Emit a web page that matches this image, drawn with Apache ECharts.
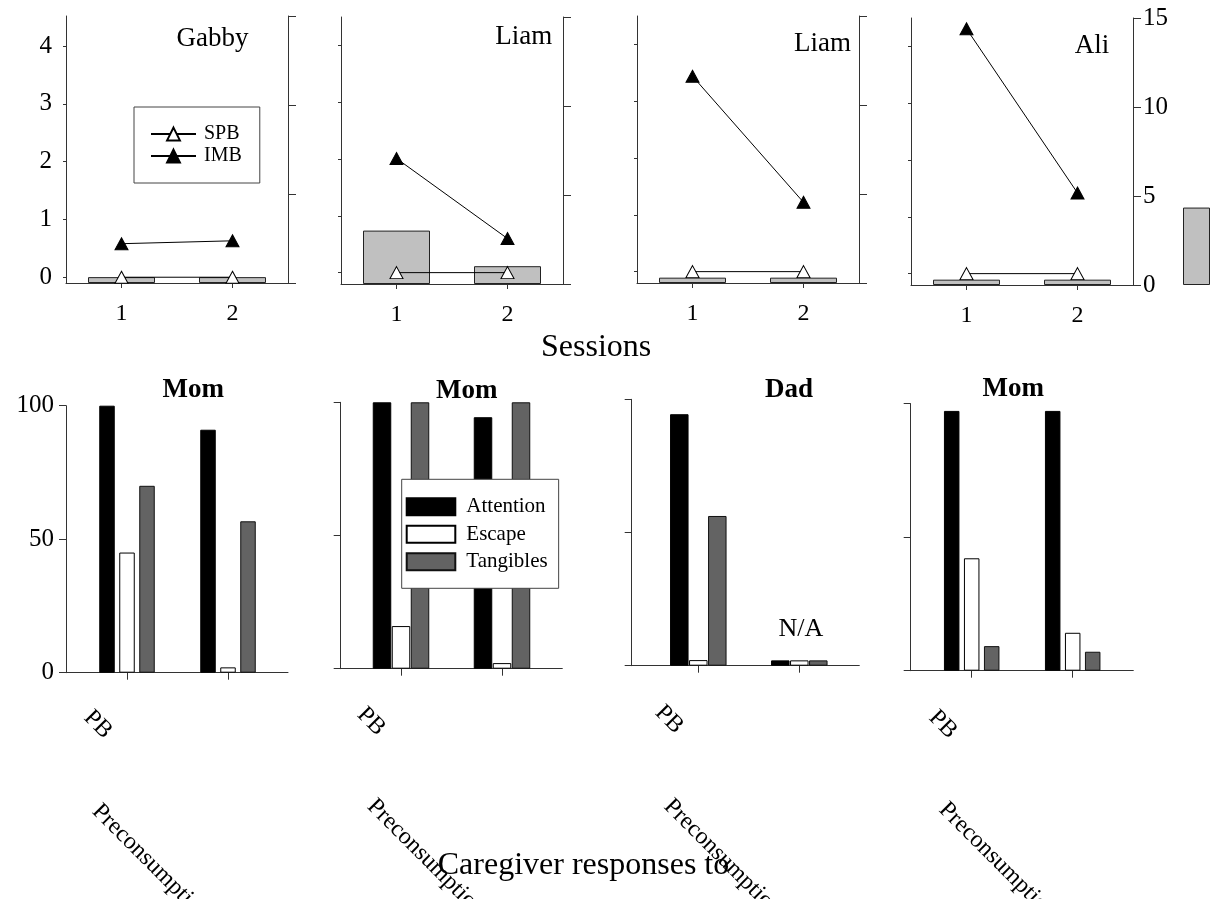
<!DOCTYPE html>
<html>
<head>
<meta charset="utf-8">
<script src="https://cdn.jsdelivr.net/npm/echarts@6/dist/echarts.min.js"></script>
<style>html,body{margin:0;padding:0;background:#fff}#chart{width:1213px;height:899px}</style>
</head>
<body>
<div id="chart"></div>
<script>
// ---------------- data ----------------
const sessions = ['1', '2'];
const topNames = ['Gabby', 'Liam', 'Liam', 'Ali'];
const spb = [[0, 0], [0, 0], [0, 0], [0, 0]];
const imb = [[0.58, 0.63], [2.01, 0.60], [3.44, 1.22], [4.31, 1.42]];
const grayBars = [[0.33, 0.33], [3.0, 1.0], [0.3, 0.3], [0.3, 0.3]];
const extraBar = [4.35];
const leftTicks = [0, 1, 2, 3, 4];

const caregivers = ['Mom', 'Mom', 'Dad', 'Mom'];
const responseCats = ['PB', 'Preconsumption'];
const attention = [[100, 91], [100, 94.4], [94.4, 2], [97.3, 97.3]];
const escape = [[45, 2], [16, 2.1], [2.1, 2], [42.1, 14.2]];
const tangibles = [[70, 56.7], [100, 100], [56.2, 2], [9.2, 7.1]];
const naNote = 'N/A';
const topAxisTitle = 'Sessions';
const bottomAxisTitle = 'Caregiver responses to';

// ---------------- layout ----------------
const FONT = '"Liberation Serif", "Times New Roman", serif';
const topGrid = [
  {left: 66, top: 16, width: 222, height: 267, ymin: -0.1, ymax: 4.52},
  {left: 341, top: 17, width: 222, height: 267, ymin: -0.2, ymax: 4.5},
  {left: 637, top: 16, width: 222, height: 267, ymin: -0.2, ymax: 4.5},
  {left: 911, top: 18, width: 222, height: 267, ymin: -0.2, ymax: 4.5}
];
const botGrid = [
  {left: 66, top: 405.7, width: 222, height: 267, tick0: 61, barW: 15.5, step: 20},
  {left: 340.7, top: 402.3, width: 221.6, height: 266.4, tick0: 60.3, barW: 18.5, step: 19},
  {left: 631.7, top: 399.3, width: 227.6, height: 266.4, tick0: 66.6, barW: 18.5, step: 19},
  {left: 910.7, top: 403.7, width: 222.6, height: 267, tick0: 61, barW: 15.5, step: 20}
];
const CAT_PX = 101;
const axisLineStyle = {color: '#333', width: 1};
const labelStyle = {fontSize: 25, fontFamily: FONT, color: '#000'};

const grid = [], xAxis = [], yAxis = [], series = [];

topGrid.forEach((g, i) => {
  grid.push({left: g.left, top: g.top, width: g.width, height: g.height});
  xAxis.push({
    type: 'category', gridIndex: i, data: sessions, boundaryGap: true,
    axisLine: {show: true, onZero: false, lineStyle: axisLineStyle},
    axisTick: {show: true, alignWithLabel: true, length: 5, lineStyle: axisLineStyle},
    axisLabel: Object.assign({show: true, margin: 19}, labelStyle, {fontSize: 24}),
    splitLine: {show: false}
  });
  yAxis.push({
    type: 'value', gridIndex: i, position: 'left', min: g.ymin, max: g.ymax,
    axisLine: {show: true, onZero: false, lineStyle: axisLineStyle},
    axisTick: {show: true, length: 3, customValues: leftTicks, lineStyle: axisLineStyle},
    axisLabel: Object.assign({show: i === 0, customValues: leftTicks, margin: 14}, labelStyle),
    splitLine: {show: false}
  });
  yAxis.push({
    type: 'value', gridIndex: i, position: 'right', min: 0, max: 15, interval: 5,
    axisLine: {show: true, onZero: false, lineStyle: axisLineStyle},
    axisTick: {show: true, length: 8, lineStyle: axisLineStyle},
    axisLabel: Object.assign({show: i === 3, margin: 10}, labelStyle),
    splitLine: {show: false}
  });
  series.push({
    type: 'bar', name: 'Bar', xAxisIndex: i, yAxisIndex: 2 * i + 1, data: grayBars[i],
    barWidth: 67, itemStyle: {color: '#c0c0c0', borderColor: '#222', borderWidth: 1}, z: 2
  });
  series.push({
    type: 'line', name: 'SPB', xAxisIndex: i, yAxisIndex: 2 * i, data: spb[i],
    symbol: 'triangle', symbolSize: [13, 12], showSymbol: true,
    lineStyle: {color: '#000', width: 1},
    itemStyle: {color: '#fff', borderColor: '#000', borderWidth: 1}, z: 3
  });
  series.push({
    type: 'line', name: 'IMB', xAxisIndex: i, yAxisIndex: 2 * i, data: imb[i],
    symbol: 'triangle', symbolSize: [13, 12], showSymbol: true,
    lineStyle: {color: '#000', width: 1},
    itemStyle: {color: '#000', borderColor: '#000', borderWidth: 1}, z: 4
  });
});

const barStyles = {
  Attention: {color: '#000', borderColor: '#000', borderWidth: 1},
  Escape: {color: '#fff', borderColor: '#000', borderWidth: 1},
  Tangibles: {color: '#636363', borderColor: '#111', borderWidth: 1}
};

botGrid.forEach((g, j) => {
  const gi = 4 + j;
  grid.push({left: g.left, top: g.top, width: g.width, height: g.height});
  xAxis.push({
    type: 'value', gridIndex: gi,
    min: -g.tick0 / CAT_PX, max: (g.width - g.tick0) / CAT_PX,
    axisLine: {show: true, onZero: false, lineStyle: axisLineStyle},
    axisTick: {show: true, length: 7, customValues: [0, 1], lineStyle: axisLineStyle},
    axisLabel: {show: false},
    splitLine: {show: false}
  });
  yAxis.push({
    type: 'value', gridIndex: gi, min: 0, max: 100, interval: 50,
    axisLine: {show: true, onZero: false, lineStyle: axisLineStyle},
    axisTick: {show: true, length: 7, lineStyle: axisLineStyle},
    axisLabel: Object.assign({show: j === 0, margin: 12}, labelStyle),
    splitLine: {show: false}
  });
  const d = g.step / CAT_PX;
  [['Attention', attention, -d], ['Escape', escape, 0], ['Tangibles', tangibles, d]].forEach(([name, arr, off]) => {
    series.push({
      type: 'bar', name: name, xAxisIndex: gi, yAxisIndex: 8 + j,
      data: arr[j].map((v, k) => [k + off, v]),
      barWidth: g.barW, barGap: '-100%',
      itemStyle: barStyles[name], z: 2
    });
  });
});

// lone bar at far right
grid.push({left: 1183, top: 18, width: 27, height: 267});
xAxis.push({type: 'category', gridIndex: 8, data: [''], show: false});
yAxis.push({type: 'value', gridIndex: 8, min: 0, max: 15, show: false});
series.push({
  type: 'bar', name: 'Bar', xAxisIndex: 8, yAxisIndex: 12, data: extraBar, barWidth: 27,
  itemStyle: {color: '#c0c0c0', borderColor: '#222', borderWidth: 1}
});

// ---------------- texts ----------------
function txt(str, x, y, size, weight, extra) {
  return Object.assign({
    type: 'text', x: x, y: y + size * 0.09, z: 10, silent: true,
    style: {text: str, fontSize: size, fontFamily: FONT, fontWeight: weight || 'normal',
      fill: '#000', align: 'center', verticalAlign: 'middle'}
  }, extra || {});
}
const topTitlePos = [[212.5, 36], [523.8, 34.7], [822.5, 41.7], [1092, 43.3]];
const botTitlePos = [[193.3, 387.5], [466.7, 388.8], [789, 387.8], [1013.3, 387]];
const pbPos = [[87.5, 712], [360.8, 709], [658.8, 707], [932.5, 712]];
const prePos = [[95.8, 805.7], [370.8, 800.7], [667.5, 800.7], [942.5, 804]];
const graphic = [];
topNames.forEach((n, i) => graphic.push(txt(n, topTitlePos[i][0], topTitlePos[i][1], 27)));
caregivers.forEach((n, i) => graphic.push(txt(n, botTitlePos[i][0], botTitlePos[i][1], 27, 'bold')));
graphic.push(txt(naNote, 800.8, 626.7, 26));
graphic.push(txt(topAxisTitle, 596.2, 345, 32));
for (let i = 0; i < 4; i++) {
  const a = txt(responseCats[0], pbPos[i][0], pbPos[i][1], 24, 'normal', {rotation: -Math.PI / 4});
  a.style.align = 'left';
  const b = txt(responseCats[1], prePos[i][0], prePos[i][1], 24, 'normal', {rotation: -Math.PI / 4});
  b.style.align = 'left';
  graphic.push(a, b);
}
graphic.push(txt(bottomAxisTitle, 583.5, 863, 32));

const option = {
  animation: false,
  backgroundColor: '#fff',
  grid: grid, xAxis: xAxis, yAxis: yAxis, series: series,
  legend: [
    {
      data: ['SPB', 'IMB'], orient: 'vertical', left: 134, top: 107,
      itemWidth: 45, itemHeight: 16, itemGap: 2, padding: [17, 18, 17, 16],
      borderColor: '#444', borderWidth: 1, backgroundColor: '#fff',
      textStyle: {fontFamily: FONT, fontSize: 20, color: '#000', padding: [0, 0, 0, 3]},
      selectedMode: false
    },
    {
      data: ['Attention', 'Escape', 'Tangibles'], orient: 'vertical', left: 401.7, top: 479.3,
      icon: 'rect', itemWidth: 48.6, itemHeight: 17, itemGap: 6.5, padding: [17, 11, 16, 4],
      borderColor: '#444', borderWidth: 1, backgroundColor: '#fff',
      textStyle: {fontFamily: FONT, fontSize: 21, color: '#000', padding: [0, 0, 0, 6]},
      selectedMode: false
    }
  ],
  graphic: graphic
};

const chart = echarts.init(document.getElementById('chart'), null, {renderer: 'canvas'});
chart.setOption(option);
</script>
</body>
</html>
